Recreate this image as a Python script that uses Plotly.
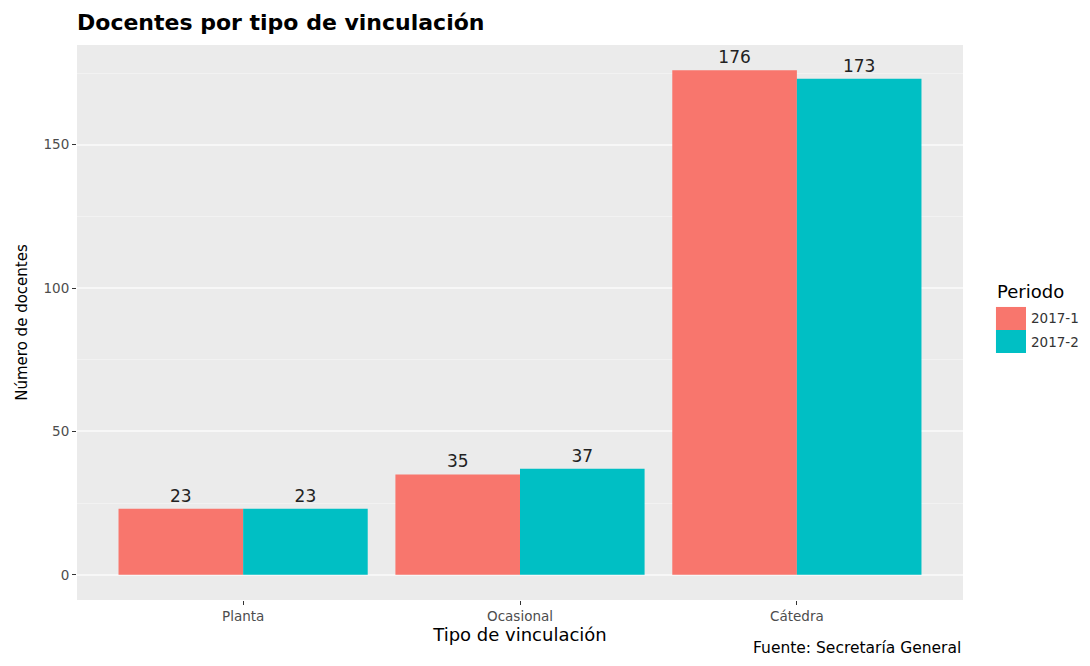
import plotly.graph_objects as go

categorias = ["Planta", "Ocasional", "Cátedra"]
periodos = ["2017-1", "2017-2"]
valores_2017_1 = [23, 35, 176]
valores_2017_2 = [23, 37, 173]
y_ticks = [0, 50, 100, 150]

colores = {"2017-1": "#F8766D", "2017-2": "#00BFC4"}
FONT = "DejaVu Sans, Liberation Sans, Arial, sans-serif"

W, H = 1074, 650  # page body adds an 8px margin on every side

fig = go.Figure()
for periodo, valores in zip(periodos, [valores_2017_1, valores_2017_2]):
    fig.add_trace(go.Bar(
        x=categorias, y=valores, name=periodo,
        marker=dict(color=colores[periodo], line=dict(width=0)),
        text=[str(v) for v in valores], textposition="outside",
        textfont=dict(size=17, color="#222222", family=FONT),
        cliponaxis=False, showlegend=False,
    ))

fig.update_layout(
    width=W, height=H,
    margin=dict(l=69, r=119, t=37, b=58, autoexpand=False),
    barmode="group", bargap=0.1, bargroupgap=0,
    plot_bgcolor="#EBEBEB", paper_bgcolor="white",
    font=dict(family=FONT),
    title=dict(text="<b>Docentes por tipo de vinculación</b>",
               x=69/W, xanchor="left", xref="container",
               y=1-14/H, yanchor="middle", yref="container",
               font=dict(size=22, color="black", family=FONT)),
    showlegend=False,
)
fig.update_xaxes(
    type="category", range=[-0.6, 2.6], automargin=False,
    showgrid=False,
    ticks="outside", ticklen=4, tickcolor="#333333", tickwidth=1,
    tickfont=dict(size=13.5, color="#4D4D4D"),
    title=dict(text="Tipo de vinculación", font=dict(size=18, color="black"), standoff=4),
    zeroline=False, showline=False,
)
fig.update_yaxes(
    range=[-8.8, 184.8], tickvals=y_ticks, automargin=False,
    showgrid=True, gridcolor="#F7F7F7", gridwidth=1.5,
    minor=dict(dtick=25, tick0=0, showgrid=True, gridcolor="#F2F2F2", gridwidth=1, ticks=""),
    ticks="outside", ticklen=4, tickcolor="#333333", tickwidth=1,
    tickfont=dict(size=13.5, color="#4D4D4D"),
    title=dict(text="Número de docentes", font=dict(size=15, color="black"), standoff=12),
    zeroline=False, showline=False,
)

# Legend (drawn to match ggplot's large keys)
fig.add_annotation(text="Periodo", xref="paper", yref="paper", x=1.036, y=0.555,
                   xanchor="left", yanchor="middle", showarrow=False,
                   font=dict(size=18, color="black"))
key_top = [0.528, 0.4865]
key_bot = [0.4865, 0.445]
for i, periodo in enumerate(periodos):
    fig.add_shape(type="rect", xref="paper", yref="paper",
                  x0=1.0372, x1=1.0711, y0=key_bot[i], y1=key_top[i],
                  fillcolor=colores[periodo], line=dict(width=0))
    fig.add_annotation(text=periodo, xref="paper", yref="paper", x=1.0745,
                       y=(key_top[i] + key_bot[i]) / 2, xanchor="left", yanchor="middle",
                       showarrow=False, font=dict(size=13.5, color="#333333"))

fig.add_annotation(text="Fuente: Secretaría General", xref="paper", yref="paper",
                   x=1, y=0, xanchor="right", yanchor="middle", yshift=-48,
                   showarrow=False, font=dict(size=15.5, color="black"))

fig.write_html("out.html")
